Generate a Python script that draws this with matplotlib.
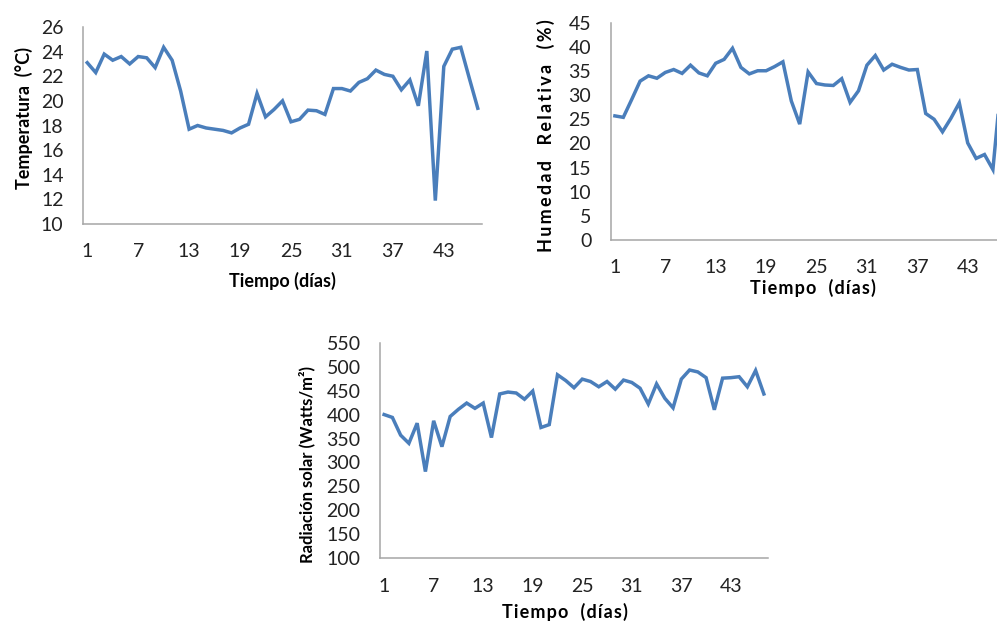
import matplotlib
matplotlib.use("Agg")
import matplotlib.pyplot as plt

plt.rcParams['font.family'] = ['Lato', 'DejaVu Sans']

# daily means, days 1..47
dias = list(range(1, 48))
temperatura = [23.1, 22.3, 23.8, 23.3, 23.6, 23.0, 23.6, 23.5, 22.7, 24.35,
               23.3, 20.8, 17.7, 18.0, 17.8, 17.7, 17.6, 17.4, 17.8, 18.1,
               20.6, 18.7, 19.3, 20.0, 18.3, 18.5, 19.25, 19.2, 18.9, 21.0,
               21.0, 20.8, 21.5, 21.8, 22.5, 22.15, 22.0, 20.9, 21.7, 19.6,
               24.05, 11.9, 22.8, 24.2, 24.35, 21.85, 19.4]
humedad = [25.7, 25.4, 29.1, 32.9, 34.0, 33.5, 34.7, 35.3, 34.5, 36.2,
           34.6, 34.0, 36.6, 37.4, 39.7, 35.75, 34.4, 35.05, 35.05, 35.9,
           36.9, 28.8, 24.0, 34.8, 32.4, 32.1, 32.0, 33.4, 28.5, 30.9,
           36.2, 38.2, 35.2, 36.4, 35.75, 35.2, 35.3, 26.2, 25.0, 22.4,
           25.2, 28.4, 20.1, 16.9, 17.7, 14.6, 33.0]
radiacion = [400, 394, 357, 340, 382, 281, 387, 333, 396, 411,
             424, 413, 424, 352, 443, 447, 445, 432, 449, 373,
             379, 483, 471, 456, 474, 469, 458, 469, 453, 472,
             467, 455, 422, 464, 434, 414, 474, 493, 489, 477,
             410, 476, 477, 479, 458, 492, 443]

xticks = [1, 7, 13, 19, 25, 31, 37, 43]
azul = '#4a7ebb'
gris = '#a6a6a6'


def espaciado(txt, sep='\u200a'):
    # letter spacing by padding between characters
    return sep.join(txt)


def panel(rect, y, ylim, ystep, ylabel, ylab_xy, xlabel, xlab_xy, ysize=13):
    ax = fig.add_axes(rect)
    ax.plot(dias, y, color=azul, lw=2.5, solid_joinstyle='miter')
    ax.set_xlim(0.5, 47.5)
    ax.set_ylim(*ylim)
    ax.set_yticks(range(ylim[0], ylim[1] + 1, ystep))
    ax.set_xticks(xticks)
    for s in ['top', 'right']:
        ax.spines[s].set_visible(False)
    for s in ['left', 'bottom']:
        ax.spines[s].set_color(gris)
        ax.spines[s].set_linewidth(1.1)
    ax.tick_params(axis='both', length=0, labelsize=14, labelcolor='#222222')
    ax.tick_params(axis='y', pad=14)
    ax.tick_params(axis='x', pad=14)
    ax.set_ylabel(ylabel, fontsize=ysize, fontweight='bold')
    ax.yaxis.set_label_coords(*ylab_xy)
    ax.set_xlabel(xlabel, fontsize=13, fontweight='bold')
    ax.xaxis.set_label_coords(*xlab_xy)
    return ax


W, H = 997, 621
fig = plt.figure(figsize=(W / 100, H / 100), dpi=100)

panel([83 / W, 1 - 224 / H, 399 / W, 197 / H], temperatura, (10, 26), 2,
      'Temperatura  (°C)', (-0.125, 0.54),
      'Tiempo (días)', (0.5, -0.244))
panel([610.7 / W, 1 - 240 / H, 394.8 / W, 217.3 / H], humedad, (0, 45), 5,
      espaciado('Humedad  Relativa  (%)', '\u2009'), (-0.142, 0.48),
      espaciado('Tiempo  (días)'), (0.511, -0.178))
panel([380 / W, 1 - 558.3 / H, 388 / W, 215.6 / H], radiacion, (100, 550), 50,
      'Radiación solar (Watts/m²)', (-0.168, 0.433),
      espaciado('Tiempo  (días)'), (0.477, -0.207), ysize=12)

fig.savefig('out.png', dpi=100)
